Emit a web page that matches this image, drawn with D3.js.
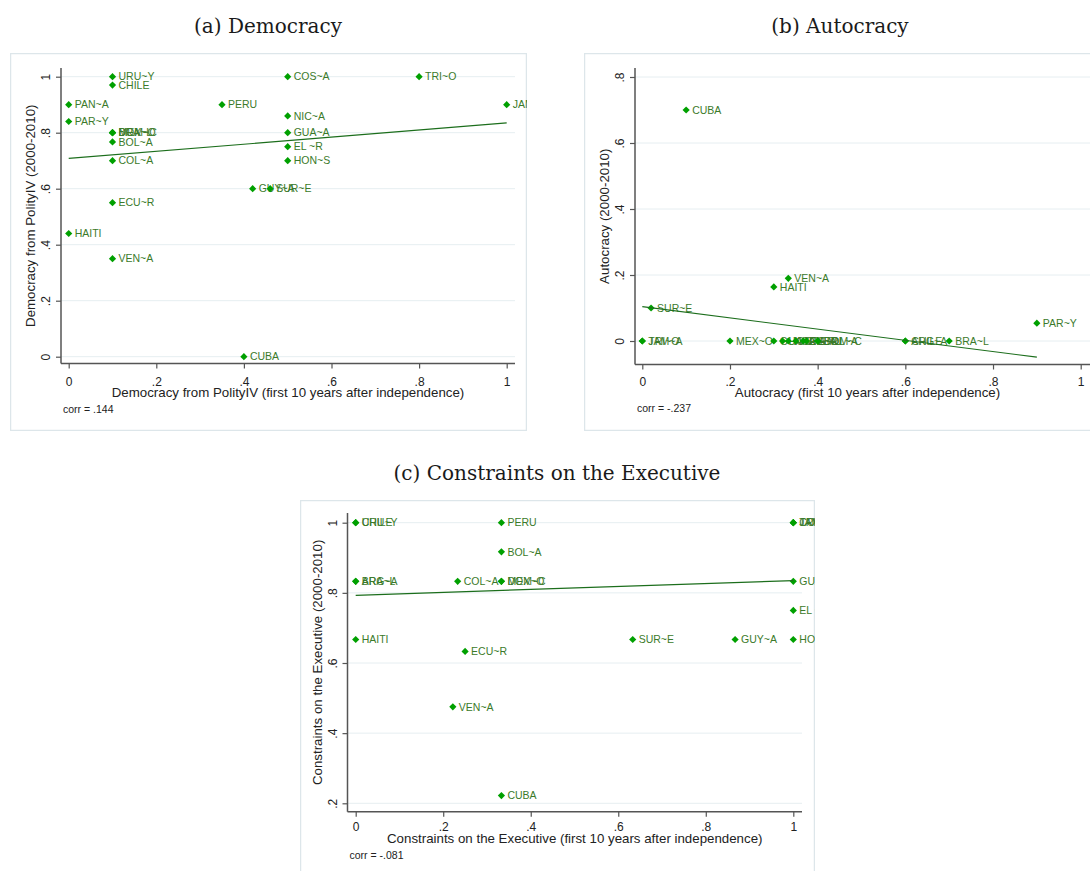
<!DOCTYPE html>
<html>
<head>
<meta charset="utf-8">
<script src="https://cdn.jsdelivr.net/npm/d3@7/dist/d3.min.js"></script>
<style>
body{margin:0;background:#fff}
</style>
</head>
<body>
<svg id="chart" width="1090" height="871"></svg>
<script>
// panel (a) democracy
var demNames=["URU~Y","CHILE","PAN~A","PAR~Y","BRA~L","MEX~O","DOM~C","BOL~A","COL~A","ECU~R","HAITI","VEN~A","PERU","GUY~A","SUR~E","CUBA","COS~A","TRI~O","JAM~A","NIC~A","GUA~A","EL ~R","HON~S"];
var demX=[0.1,0.1,0,0,0.1,0.1,0.1,0.1,0.1,0.1,0,0.1,0.35,0.42,0.46,0.4,0.5,0.8,1,0.5,0.5,0.5,0.5];
var demY=[1,0.97,0.9,0.84,0.8,0.8,0.8,0.767,0.7,0.55,0.44,0.35,0.9,0.6,0.6,0,1,1,0.9,0.86,0.8,0.75,0.7];
var demFit=[[0,0.708],[1,0.835]];

// panel (b) autocracy
var autNames=["CUBA","VEN~A","HAITI","SUR~E","PAR~Y","JAM~A","TRI~O","MEX~O","GUA~A","HON~S","NIC~A","COL~A","EL ~R","PERU","DOM~C","BOL~A","CHILE","ARG~A","BRA~L"];
var autX=[0.1,0.333,0.3,0.02,0.9,0,0,0.2,0.3,0.32,0.333,0.35,0.367,0.375,0.4,0.4,0.6,0.6,0.7];
var autY=[0.7,0.19,0.164,0.1,0.054,0,0,0,0,0,0,0,0,0,0,0,0,0,0];
var autFit=[[0,0.104],[0.9,-0.049]];

// panel (c) constraints on the executive
var xconNames=["CHILE","URU~Y","PERU","BOL~A","ARG~A","BRA~L","COL~A","DOM~C","MEX~O","HAITI","ECU~R","VEN~A","CUBA","SUR~E","GUY~A","JAM~A","TRI~O","COS~A","GUA~A","EL ~R","HON~S"];
var xconX=[0,0,0.333,0.333,0,0,0.233,0.333,0.333,0,0.25,0.222,0.333,0.633,0.867,1,1,1,1,1,1];
var xconY=[1,1,1,0.917,0.833,0.833,0.833,0.833,0.833,0.667,0.633,0.475,0.222,0.667,0.667,1,1,1,0.833,0.75,0.667];
var xconFit=[[0,0.793],[1,0.835]];

var xTicks=[0,0.2,0.4,0.6,0.8,1];
var demYTicks=[0,0.2,0.4,0.6,0.8,1];
var autYTicks=[0,0.2,0.4,0.6,0.8];
var xconYTicks=[0.2,0.4,0.6,0.8,1];

var svg=d3.select("#chart");
var fmt=function(d){ return d===0?"0":d===1?"1":d3.format(".1f")(d).replace("0.","."); };
var sans="'Liberation Sans', Arial, sans-serif";

function panel(o){
    var clipId="clip-"+o.id;
    svg.append("clipPath").attr("id",clipId).append("rect")
        .attr("x",o.box[0]).attr("y",o.box[1]).attr("width",o.box[2]).attr("height",o.box[3]);

    svg.append("text")
        .attr("x",o.titleX).attr("y",o.titleY)
        .attr("text-anchor","middle")
        .style("font-family","'DejaVu Serif', serif")
        .style("font-size","20px")
        .style("fill","#1a1a1a")
        .text(o.title);

    var g=svg.append("g").attr("clip-path","url(#"+clipId+")");
    g.append("rect")
        .attr("x",o.box[0]+0.5).attr("y",o.box[1]+0.5)
        .attr("width",o.box[2]-1).attr("height",o.box[3]-1)
        .style("fill","#fff").style("stroke","#dde6ea").style("stroke-width",1.5);

    var x=d3.scaleLinear().domain([0,1]).range(o.xr);
    var y=d3.scaleLinear().domain(o.yd).range(o.yr);

    g.selectAll(".grid").data(o.yTicks).enter().append("line")
        .attr("x1",o.left).attr("x2",o.right)
        .attr("y1",function(d){return y(d);}).attr("y2",function(d){return y(d);})
        .style("stroke","#e6eef1").style("stroke-width",1);

    // axes
    var ay=g.append("g").attr("transform","translate("+o.left+",0)")
        .call(d3.axisLeft(y).tickValues(o.yTicks).tickSize(5).tickFormat(fmt));
    ay.select(".domain").remove();
    ay.selectAll("line").style("stroke","#555").style("stroke-width",1.2);
    ay.selectAll("text")
        .attr("x",0).attr("y",-11).attr("dy",null)
        .attr("transform","rotate(-90)")
        .attr("text-anchor","middle")
        .style("font-family",sans)
        .style("font-size","12px").style("fill","#222");

    var ax=g.append("g").attr("transform","translate(0,"+o.bottom+")")
        .call(d3.axisBottom(x).tickValues(xTicks).tickSize(5).tickFormat(fmt));
    ax.select(".domain").remove();
    ax.selectAll("line").style("stroke","#555").style("stroke-width",1.2);
    ax.selectAll("text")
        .attr("y",o.tickOff).attr("dy",null)
        .style("font-family",sans)
        .style("font-size","12px").style("fill","#222");

    g.append("line").attr("x1",o.left).attr("x2",o.left).attr("y1",o.top).attr("y2",o.bottom)
        .style("stroke","#555").style("stroke-width",1.5);
    g.append("line").attr("x1",o.left).attr("x2",o.right).attr("y1",o.bottom).attr("y2",o.bottom)
        .style("stroke","#555").style("stroke-width",1.5);

    // axis titles
    g.append("text")
        .attr("x",(o.left+o.right)/2).attr("y",o.bottom+o.titleOff)
        .attr("text-anchor","middle")
        .style("font-family",sans)
        .style("font-size","13.3px").style("fill","#222")
        .text(o.xTitle);
    g.append("text")
        .attr("transform","translate("+(o.left-26)+","+((o.top+o.bottom)/2)+") rotate(-90)")
        .attr("text-anchor","middle")
        .style("font-family",sans)
        .style("font-size","13.3px").style("fill","#222")
        .text(o.yTitle);
    g.append("text")
        .attr("x",o.left+2).attr("y",o.bottom+o.corrOff)
        .style("font-family",sans)
        .style("font-size","10.5px").style("fill","#222")
        .text(o.corr);

    // points
    var pts=o.names.map(function(n,i){ return {name:n,x:o.xs[i],y:o.ys[i]}; });
    var sym=d3.symbol().type(d3.symbolSquare).size(26);
    var pg=g.selectAll(".pt").data(pts).enter().append("g")
        .attr("transform",function(d){ return "translate("+x(d.x)+","+y(d.y)+")"; });
    pg.append("path").attr("d",sym).attr("transform","rotate(45)").style("fill","#00a000");
    pg.append("text")
        .attr("x",6).attr("dy","0.36em")
        .style("font-family",sans)
        .style("font-size","10.5px").style("fill","#3b7a2a")
        .text(function(d){ return d.name; });

    var line=d3.line().x(function(d){return x(d[0]);}).y(function(d){return y(d[1]);});
    g.append("path").datum(o.fit).attr("d",line)
        .style("fill","none").style("stroke","#1c6e1c").style("stroke-width",1.2);
}

panel({id:"a",title:"(a) Democracy",titleX:268,titleY:33,box:[10,53,517,378],
    xr:[68.7,506.7],yd:[0,1],yr:[356.7,76.7],left:61,right:515,top:68,bottom:363.5,
    yTicks:demYTicks,tickOff:22,titleOff:33,corrOff:49,
    xTitle:"Democracy from PolityIV (first 10 years after independence)",
    yTitle:"Democracy from PolityIV (2000-2010)",corr:"corr = .144",
    names:demNames,xs:demX,ys:demY,fit:demFit});

panel({id:"b",title:"(b) Autocracy",titleX:840,titleY:33,box:[584,53,520,378],
    xr:[642.3,1080.7],yd:[0,0.8],yr:[341,77],left:635,right:1100,top:68,bottom:364.5,
    yTicks:autYTicks,tickOff:21,titleOff:32,corrOff:47,
    xTitle:"Autocracy (first 10 years after independence)",
    yTitle:"Autocracy (2000-2010)",corr:"corr = -.237",
    names:autNames,xs:autX,ys:autY,fit:autFit});

panel({id:"c",title:"(c) Constraints on the Executive",titleX:557,titleY:480,box:[300,500,515,380],
    xr:[355.7,793.3],yd:[0.2,1],yr:[803.3,522.7],left:347.5,right:802,top:513,bottom:811.7,
    yTicks:xconYTicks,tickOff:19,titleOff:31,corrOff:47,
    xTitle:"Constraints on the Executive (first 10 years after independence)",
    yTitle:"Constraints on the Executive (2000-2010)",corr:"corr = -.081",
    names:xconNames,xs:xconX,ys:xconY,fit:xconFit});
</script>
</body>
</html>
